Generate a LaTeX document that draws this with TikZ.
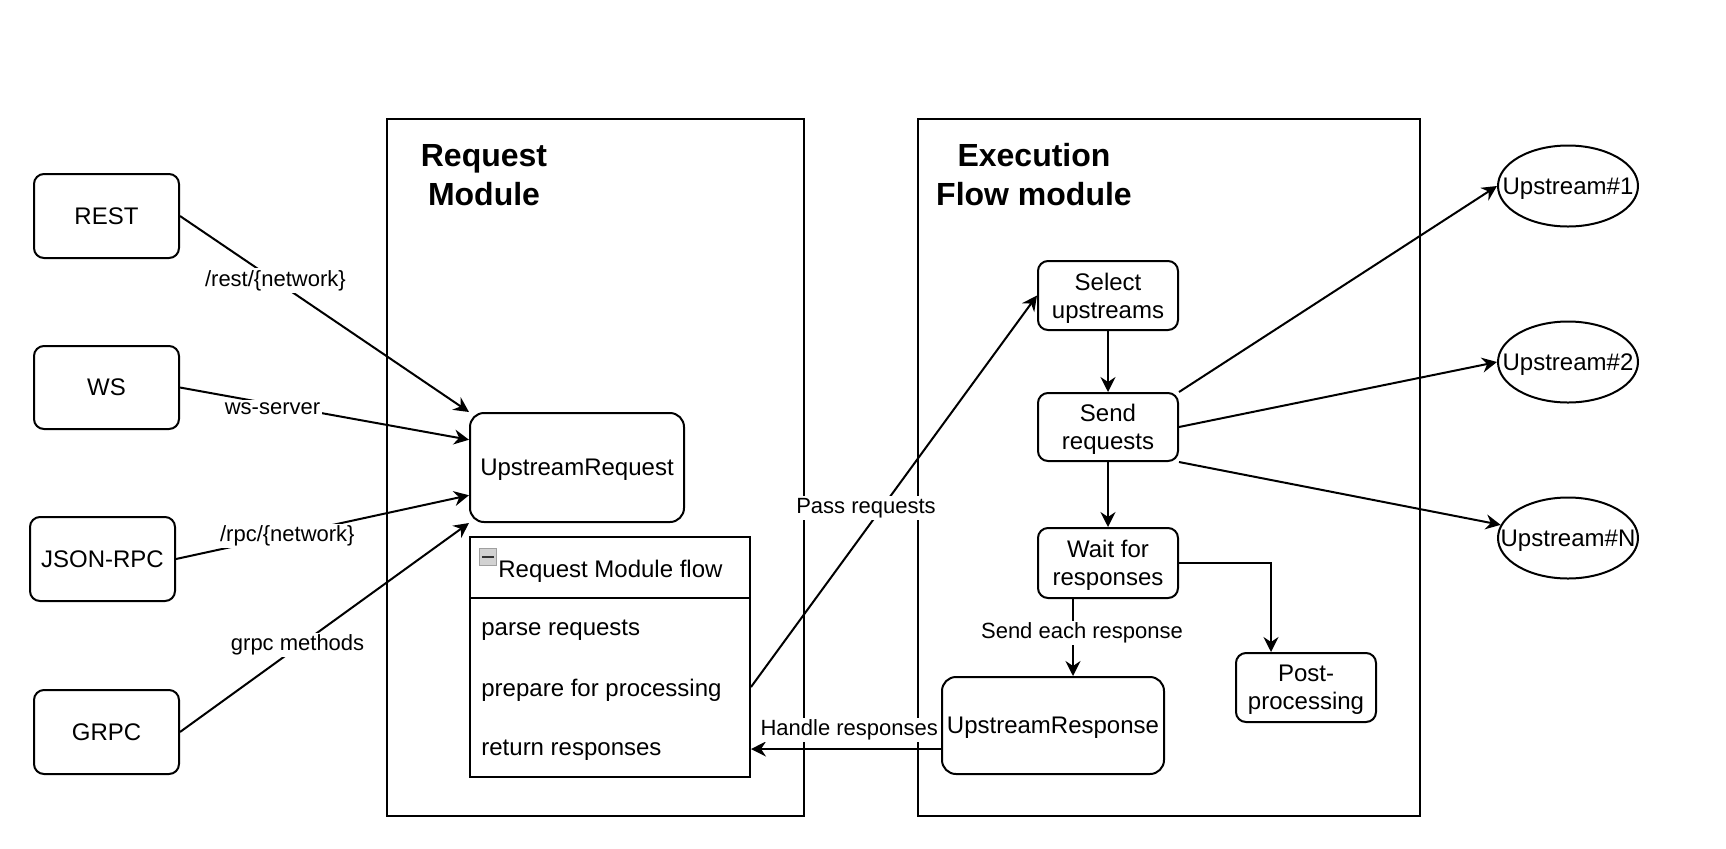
\documentclass[tikz,border=0pt]{standalone}
\usepackage{fontspec}
\setmainfont{Liberation Sans}
\usetikzlibrary{arrows.meta,calc,shapes.geometric}
\begin{document}
\begin{tikzpicture}[x=0.5pt,y=-0.5pt,
 every node/.style={font=\fontsize{12}{14}\selectfont},
 box/.style={draw, line width=1pt, rounded corners=5pt, align=center, inner sep=0pt, text depth=0pt},
 cont/.style={draw, line width=1pt, inner sep=0pt},
 conn/.style={line width=1pt, -{Stealth[length=7.5pt,width=7.5pt,inset=2.5pt]}},
 plain/.style={line width=1pt},
 lbl/.style={fill=white, inner sep=1pt, font=\fontsize{11}{13}\selectfont},
 ttl/.style={font=\fontsize{16}{19.5}\selectfont\bfseries, align=center},
 up/.style={draw, ellipse, line width=1pt, minimum width=70pt, minimum height=40.5pt, inner sep=0pt, text depth=0pt}
]
\useasboundingbox (0,0) rectangle (1726,848);

% containers
\node[cont, minimum width=208.5pt, minimum height=348.5pt] (reqmod) at (595.5,467.5) {};
\node[cont, minimum width=251pt, minimum height=348.5pt] (exec) at (1169,467.5) {};
\node[ttl] (t1) at (484,175) {Request\\Module};
\node[ttl] (t2) at (1034,175) {Execution\\Flow module};

% inputs
\node[box, minimum width=72.5pt, minimum height=42pt] (rest) at (106.5,216) {REST};
\node[box, minimum width=72.5pt, minimum height=41.5pt] (ws) at (106.5,387.5) {WS};
\node[box, minimum width=72.5pt, minimum height=42pt] (json) at (102.5,559) {JSON-RPC};
\node[box, minimum width=72.5pt, minimum height=42pt] (grpc) at (106.5,732) {GRPC};

% request module
\node[box, rounded corners=7pt, minimum width=107pt, minimum height=54.5pt] (ureq) at (577,467.5) {UpstreamRequest};
\node[cont, minimum width=140pt, minimum height=120pt] (flow) at (610,657) {};
\coordinate (divy) at (0,598);
\draw[plain] (flow.west |- divy) -- (flow.east |- divy);
\node[draw=gray!75, fill=gray!35, line width=0.6pt, minimum size=8.5pt, inner sep=0pt] (minus) at (488,557) {};
\draw[line width=1.2pt, black!80] ($(minus.west)+(3,0)$) -- ($(minus.east)+(-3,0)$);
\node[anchor=west, inner sep=0pt] (fh) at (498,571) {Request Module flow};
\node[anchor=west, inner sep=0pt] (r1) at (481,630) {parse requests};
\node[anchor=west, inner sep=0pt] (r2) at (481,690) {prepare for processing};
\node[anchor=west, inner sep=0pt] (r3) at (481,750) {return responses};
\coordinate (passy) at (0,687);
\coordinate (handy) at (0,749);

% execution flow module
\node[box, minimum width=70pt, minimum height=34.5pt] (select) at (1108,295.5) {Select\\upstreams};
\node[box, minimum width=70pt, minimum height=34pt] (send) at (1108,427) {Send\\requests};
\node[box, minimum width=70pt, minimum height=35pt] (wait) at (1108,563) {Wait for\\responses};
\node[box, minimum width=70pt, minimum height=34.5pt] (post) at (1306,687.5) {Post-\\processing};
\node[box, rounded corners=7pt, minimum width=111pt, minimum height=48.5pt] (uresp) at (1053,725.5) {UpstreamResponse};

% upstreams
\node[up] (u1) at (1568,186) {\makebox[0pt]{Upstream\#1}};
\node[up] (u2) at (1568,362) {\makebox[0pt]{Upstream\#2}};
\node[up] (uN) at (1568,538) {\makebox[0pt]{Upstream\#N}};

% connectors
\draw[conn] (rest.east) -- node[lbl, pos=0.33] {/rest/\{network\}} (ureq.north west);
\draw[conn] (ws.east) -- node[lbl, pos=0.32, yshift=-2pt] {ws-server} ($(ureq.north west)!0.5!(ureq.west)$);
\draw[conn] (json.east) -- node[lbl, pos=0.38, yshift=-0.5pt] {/rpc/\{network\}} ($(ureq.west)!0.5!(ureq.south west)$);
\draw[conn] (grpc.east) -- node[lbl, pos=0.4, xshift=1pt, yshift=1.6pt] {grpc methods} (ureq.south west);

\draw[conn] (flow.east |- passy) -- node[lbl, pos=0.465, xshift=-9pt, yshift=-1.6pt] {Pass requests} (select.west);
\draw[conn] (select) -- (send);
\draw[conn] (send) -- (wait);
\coordinate (cx) at (1073,0);
\draw[conn] (wait.south -| cx) -- node[lbl, pos=0.4, xshift=4.5pt, yshift=-1.6pt] {Send each response} (uresp.north -| cx);
\coordinate (px) at (1271,0);
\draw[conn] (wait.east) -| (post.north -| px);
\draw[conn] (uresp.west |- handy) -- node[lbl, pos=0.5, xshift=1.6pt, yshift=9.4pt] {Handle responses} (flow.east |- handy);

\draw[conn] (send.north east) -- (u1.west);
\draw[conn] (send.east) -- (u2.west);
\draw[conn] (send.south east) -- (uN);
\end{tikzpicture}
\end{document}
